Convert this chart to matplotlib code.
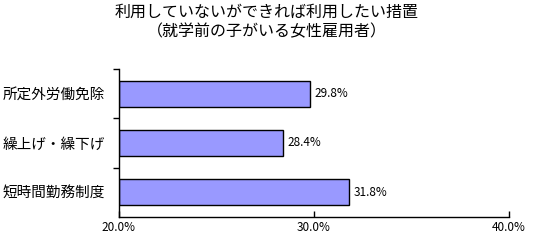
import matplotlib
matplotlib.use('Agg')
import matplotlib.pyplot as plt
import numpy as np

plt.rcParams['font.family'] = ['Noto Sans CJK JP', 'DejaVu Sans']

# データ
categories = ['所定外労働免除', '繰上げ・繰下げ', '短時間勤務制度']
values = [29.8, 28.4, 31.8]
xticks = [20.0, 30.0, 40.0]
title = '利用していないができれば利用したい措置\n（就学前の子がいる女性雇用者）'

fig = plt.figure(figsize=(5.34, 2.46), dpi=100)
ax = fig.add_axes([0.2228, 0.1179, 0.7304, 0.6016])

y = np.arange(len(categories))[::-1]
ax.barh(y, np.array(values) - 20, left=20, height=0.53,
        color='#9999FF', edgecolor='black', linewidth=1)

for yi, v in zip(y, values):
    ax.text(v + 0.25, yi, f'{v:.1f}%', va='center', ha='left', fontsize=8.5)

ax.set_xlim(20, 40)
ax.set_ylim(-0.5, 2.5)
ax.set_xticks(xticks)
ax.set_xticklabels([f'{t:.1f}%' for t in xticks], fontsize=8.5)
ax.tick_params(axis='x', direction='in', length=4, pad=3, width=1)

ax.set_yticks(y)
ax.set_yticklabels(categories, fontsize=10.5)
ax.tick_params(axis='y', length=0, pad=10)
ax.set_yticks([0.5, 1.5, 2.5], minor=True)
ax.tick_params(axis='y', which='minor', direction='out', length=4, width=1)

for s in ['top', 'right']:
    ax.spines[s].set_visible(False)
for s in ['left', 'bottom']:
    ax.spines[s].set_linewidth(1)

fig.text(0.5, 0.985, title, ha='center', va='top', fontsize=11.5, linespacing=1.2)

fig.savefig('out.png', dpi=100)
